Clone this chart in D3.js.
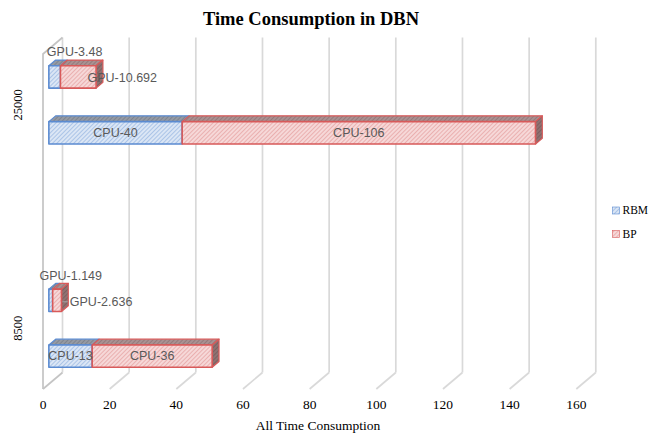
<!DOCTYPE html>
<html>
<head>
<meta charset="utf-8">
<script src="https://cdn.jsdelivr.net/npm/d3@7"></script>
<style>
  html, body { margin: 0; padding: 0; background: #fff; }
  svg { display: block; }
</style>
</head>
<body>
<svg id="chart" width="654" height="433"></svg>
<script>
// Data: time consumption per sample size, device and training stage
const categories = ["25000", "8500"];
const devices = ["GPU", "CPU"];
const seriesNames = ["RBM", "BP"];
const rbmTime = [[3.48, 40], [1.149, 13]];
const bpTime = [[10.692, 106], [2.636, 36]];
const xTicks = [0, 20, 40, 60, 80, 100, 120, 140, 160];
const chartTitle = "Time Consumption in DBN";
const xTitle = "All Time Consumption";

const svg = d3.select("#chart");

// 3D projection: front plane + depth vector toward the back wall
const depth = { x: 19.5, y: -16.5 };
const barDepth = [0.3, 0.65];
const plotTop = 54, plotBottom = 389;

const x = d3.scaleLinear().domain([0, 160]).range([43, 576.3]);

// Row slots: each category holds its device rows, with two empty slots between categories
const slots = [];
categories.forEach((c, i) => {
  devices.forEach(d => slots.push(c + "|" + d));
  if (i < categories.length - 1) { slots.push("sep" + i + "a", "sep" + i + "b"); }
});
const y = d3.scaleBand().domain(slots).range([plotTop, plotBottom])
  .paddingInner(0.6).paddingOuter(0.3);

const P = (v, yy, t) => [x(v) + depth.x * t, yy + depth.y * t];
const pts = arr => arr.map(p => p.join(",")).join(" ");

// Hatch patterns
const defs = svg.append("defs");
function hatch(id, bg, fg, size, w) {
  const p = defs.append("pattern").attr("id", id).attr("patternUnits", "userSpaceOnUse")
    .attr("width", size).attr("height", size).attr("patternTransform", "rotate(45)");
  p.append("rect").attr("width", size).attr("height", size).attr("fill", bg);
  p.append("line").attr("x1", 0).attr("y1", 0).attr("x2", 0).attr("y2", size)
    .attr("stroke", fg).attr("stroke-width", w);
}
hatch("rbmFront", "#dbe6f5", "#8aaedf", 3, 1.2);
hatch("bpFront", "#f6d8d8", "#e39696", 3, 1.2);
hatch("rbmTop", "#959aa3", "#6e7582", 3, 1.2);
hatch("bpTop", "#a99192", "#876a6b", 3, 1.2);
hatch("rbmSide", "#7a808c", "#5c6270", 3, 1.2);
hatch("bpSide", "#8f7272", "#6f5353", 3, 1.2);

const style = {
  RBM: { front: "url(#rbmFront)", top: "url(#rbmTop)", side: "url(#rbmSide)", stroke: "#5b8bd1" },
  BP: { front: "url(#bpFront)", top: "url(#bpTop)", side: "url(#bpSide)", stroke: "#d85a5a" }
};

// Back-wall gridlines and floor lines
const grid = svg.append("g");
xTicks.forEach(v => {
  const bt = P(v, plotTop, 1), bb = P(v, plotBottom, 1), fb = P(v, plotBottom, 0);
  grid.append("line").attr("x1", bt[0]).attr("y1", bt[1]).attr("x2", bb[0]).attr("y2", bb[1])
    .attr("stroke", "#d9d9d9").attr("stroke-width", 1.7);
  grid.append("line").attr("x1", bb[0]).attr("y1", bb[1]).attr("x2", fb[0]).attr("y2", fb[1])
    .attr("stroke", v === 0 ? "#c4c4c4" : "#d9d9d9").attr("stroke-width", 1.7);
});
// Left wall edges
{
  const ft = P(0, plotTop, 0), fb = P(0, plotBottom, 0), bt = P(0, plotTop, 1);
  grid.append("polyline").attr("points", pts([bt, ft, fb]))
    .attr("fill", "none").attr("stroke", "#c4c4c4").attr("stroke-width", 1.7);
}

// Tick labels
svg.append("g").selectAll("text").data(xTicks).join("text")
  .attr("x", d => x(d)).attr("y", 409).attr("text-anchor", "middle")
  .attr("font-family", "'Liberation Serif', 'Times New Roman', serif")
  .attr("font-size", 13.5).attr("fill", "#000").text(d => d);

// Bars
const bars = svg.append("g");
const labels = svg.append("g");
const [ta, tb] = barDepth;
const labelOffsets = { RBM: { dx: 20, dy: -24.5 }, BP: { dx: 44, dy: 1.5 } };

categories.forEach((cat, ci) => {
  devices.forEach((dev, di) => {
    const vals = [rbmTime[ci][di], bpTime[ci][di]];
    const yTop = y(cat + "|" + dev), yBot = yTop + y.bandwidth();
    let start = 0;
    vals.forEach((val, si) => {
      const s = seriesNames[si], st = style[s];
      const v0 = start, v1 = start + val;
      start = v1;
      const fTL = P(v0, yTop, ta), fTR = P(v1, yTop, ta), fBR = P(v1, yBot, ta), fBL = P(v0, yBot, ta);
      const bTL = P(v0, yTop, tb), bTR = P(v1, yTop, tb), bBR = P(v1, yBot, tb);
      // top face
      bars.append("polygon").attr("points", pts([fTL, fTR, bTR, bTL]))
        .attr("fill", st.top).attr("stroke", st.stroke).attr("stroke-width", 1.2)
        .attr("stroke-linejoin", "round");
      // right side face (visible on the last segment only)
      if (si === vals.length - 1) {
        bars.append("polygon").attr("points", pts([fTR, bTR, bBR, fBR]))
          .attr("fill", st.side).attr("stroke", st.stroke).attr("stroke-width", 1.2)
          .attr("stroke-linejoin", "round");
      }
      // front face
      bars.append("polygon").attr("points", pts([fTL, fTR, fBR, fBL]))
        .attr("fill", st.front).attr("stroke", st.stroke).attr("stroke-width", 1.6)
        .attr("stroke-linejoin", "round");

      // value label
      const cx = (fTL[0] + fTR[0]) / 2, cy = (fTL[1] + fBL[1]) / 2;
      const off = dev === "GPU" ? labelOffsets[s] : { dx: 0, dy: 0 };
      const t = labels.append("text").attr("x", cx + off.dx).attr("y", cy + off.dy)
        .attr("text-anchor", "middle").attr("dominant-baseline", "central")
        .attr("font-family", "'Liberation Sans', Arial, sans-serif").attr("font-size", 12.5)
        .attr("fill", "#595959").text(dev + "-" + val);
      const tLeft = t.node().getBBox().x;
      if (dev === "GPU" && s === "BP" && tLeft > fTR[0] + 6) {
        labels.append("line").attr("x1", fTR[0] + 1).attr("x2", tLeft - 2)
          .attr("y1", cy + off.dy).attr("y2", cy + off.dy)
          .attr("stroke", "#a6a6a6").attr("stroke-width", 1);
      }
    });
  });
});

// Category labels (rotated)
svg.append("g").selectAll("text").data(categories).join("text")
  .attr("transform", c => {
    const ys = devices.map(d => y(c + "|" + d) + y.bandwidth() / 2 + depth.y * ta);
    return `translate(18,${d3.mean(ys)}) rotate(-90)`;
  })
  .attr("text-anchor", "middle").attr("dominant-baseline", "central")
  .attr("font-family", "'Liberation Serif', 'Times New Roman', serif")
  .attr("font-size", 12.5).attr("fill", "#000").text(c => c);

// Legend
const legend = svg.append("g");
seriesNames.forEach((s, i) => {
  const ly = 214 + i * 23.5;
  legend.append("rect").attr("x", 612.5).attr("y", ly - 7).attr("width", 7).attr("height", 7)
    .attr("fill", style[s].front).attr("stroke", style[s].stroke).attr("stroke-width", 0.6);
  legend.append("text").attr("x", 622.5).attr("y", ly)
    .attr("font-family", "'Liberation Serif', 'Times New Roman', serif")
    .attr("font-size", 11.5).attr("fill", "#000").text(s);
});

// Titles
svg.append("text").attr("x", 311).attr("y", 25).attr("text-anchor", "middle")
  .attr("font-family", "'Liberation Serif', 'Times New Roman', serif")
  .attr("font-size", 18.5).attr("font-weight", "bold").attr("fill", "#000").text(chartTitle);
svg.append("text").attr("x", 318).attr("y", 430).attr("text-anchor", "middle")
  .attr("font-family", "'Liberation Serif', 'Times New Roman', serif")
  .attr("font-size", 13.5).attr("fill", "#000").text(xTitle);
</script>
</body>
</html>
